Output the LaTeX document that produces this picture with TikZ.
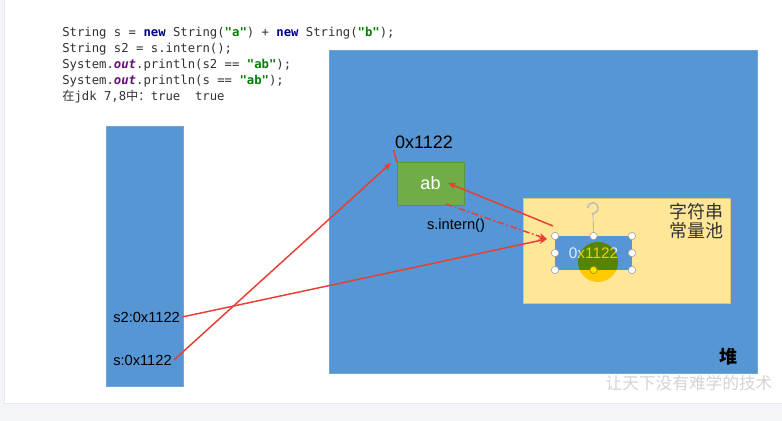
\documentclass[tikz,border=0pt]{standalone}
\usepackage{fontspec}
\setmainfont{Liberation Sans}
\setmonofont{DejaVu Sans Mono}
\newfontfamily\cjk{Noto Sans CJK SC}
\usepackage{xcolor}
\definecolor{pageGray}{RGB}{244, 245, 248}
\definecolor{panelLine}{RGB}{232, 233, 238}
\definecolor{memBlue}{RGB}{86, 150, 213}
\definecolor{poolYellow}{RGB}{255, 230, 153}
\definecolor{objGreen}{RGB}{112, 173, 71}
\definecolor{refRed}{RGB}{232, 62, 52}
\definecolor{codeGray}{RGB}{50, 50, 50}
\definecolor{kwBlue}{RGB}{0, 0, 140}
\definecolor{strGreen}{RGB}{0, 128, 0}
\definecolor{fldPurple}{RGB}{102, 14, 122}
\definecolor{hiYellow}{RGB}{255, 226, 0}
\definecolor{markGray}{RGB}{212, 212, 214}
\usepackage{tikz}
\usetikzlibrary{arrows.meta, positioning}
\newcommand{\kw}[1]{\textcolor{kwBlue}{\bfseries #1}}
\newcommand{\str}[1]{\textcolor{strGreen}{\bfseries #1}}
\newcommand{\fld}[1]{\textcolor{fldPurple}{\bfseries\itshape #1}}

\begin{document}
\begin{tikzpicture}[x=0.75pt, y=-0.75pt,
  area/.style={rectangle, fill=memBlue, draw=memBlue!85!white,
               inner sep=0pt, outer sep=0pt},
  pool/.style={rectangle, fill=poolYellow, draw=poolYellow!85!black,
               line width=0.4pt, inner sep=0pt, outer sep=0pt},
  obj/.style={rectangle, fill=objGreen, draw=objGreen!85!black,
              line width=0.4pt, inner sep=0pt, outer sep=0pt,
              text=white, font=\fontsize{13.5}{15}\selectfont},
  lbl/.style={inner sep=1.5pt, font=\fontsize{11}{13}\selectfont},
  code/.style={inner sep=0pt, align=left, text=codeGray,
               font=\ttfamily\fontsize{9.2}{12}\selectfont},
  handle/.style={circle, draw=gray!70, fill=white, line width=0.5pt,
                 inner sep=0pt, minimum size=5.5pt},
  ref/.style={-{Stealth[length=6pt, width=5pt]}, refRed, line width=1.1pt},
  intern/.style={ref, dash pattern=on 5pt off 2pt on 1.2pt off 2pt},
]
  \useasboundingbox (0,0) rectangle (782,421);
  % page and panel
  \fill[pageGray] (0,0) rectangle (782,421);
  \filldraw[fill=white, draw=panelLine] (4,-2) rectangle (784,403);

  % source code
  \node[code, anchor=north west] (code) at (62,27) {%
    String s = \kw{new} String(\str{"a"}) + \kw{new} String(\str{"b"});\\
    String s2 = s.intern();\\
    System.\fld{out}.println(s2 == \str{"ab"});\\
    System.\fld{out}.println(s == \str{"ab"});\\
    {\cjk 在}jdk 7,8{\cjk 中：}true\ \ true};

  % stack and heap
  \node[area, minimum width=57.75pt, minimum height=195pt] (stack) at (144.5,256) {};
  \node[area, minimum width=321pt, minimum height=242.25pt] (heap) at (543,211.5) {};
  \node[anchor=center, font=\cjk\bfseries\fontsize{13.5}{15}\selectfont] (heaplbl) at (728,357) {堆};

  % string constant pool
  \node[pool, minimum width=155.25pt, minimum height=78.75pt] (strpool) at (626.5,250.5) {};
  \node[align=center, text=black!80, font=\cjk\fontsize{13.5}{14.5}\selectfont] (poollbl) at (696,221) {字符串\\常量池};
  \node[area, draw=none, minimum width=57.75pt, minimum height=25.5pt,
        text=white!92!blue, font=\fontsize{11.5}{13}\selectfont] (poolobj) at (593.5,253) {0x1122};

  % object "ab" in heap
  \node[obj, minimum width=50.25pt, minimum height=32.25pt] (ab) at (430.5,183.5) {ab};
  \node[font=\fontsize{13.5}{15}\selectfont, inner sep=1pt] (abaddr) at (424,142) {0x1122};
  \draw[refRed, line width=1.1pt] (abaddr.south west) -- (ab.north west);

  % references held in the stack
  \node[lbl, anchor=west] (s2ref) at (111,317) {s2:0x1122};
  \node[lbl, anchor=west] (sref) at (111,360) {s:0x1122};

  % arrow ends
  \coordinate (abin) at (391,163);
  \coordinate (abr) at (448,183);
  \coordinate (abdn) at (446,204);
  \coordinate (hit) at (547,239);
  \coordinate (poolout) at (553,226);

  \draw[ref] (sref.east) -- (abin);
  \draw[ref] (s2ref.east) -- (hit);
  \draw[ref] (poolout) -- (abr);
  \draw[intern] (abdn) -- (hit);
  \node[lbl] (internlbl) at (456,226) {s.intern()};

  % selection handles on the pool object
  \coordinate (rot) at (593,208);
  \draw[gray!70, line width=0.5pt] (rot) ++(0,6) -- (poolobj.north);
  \draw[gray!55, line width=1pt, -{Stealth[length=2.5pt]}] (rot) ++(-5.5,0) arc[start angle=180, end angle=-110, radius=4pt];
  \foreach \a in {north west, north, north east, west, east, south west, south, south east}
    \node[handle] at (poolobj.\a) {};
  % pointer highlight
  \fill[hiYellow, blend mode=multiply] (598,262) circle (15pt);

  % watermark
  \node[text=markGray, font=\cjk\fontsize{12.5}{14}\selectfont] (wmark) at (689,383) {让天下没有难学的技术};
\end{tikzpicture}
\end{document}
